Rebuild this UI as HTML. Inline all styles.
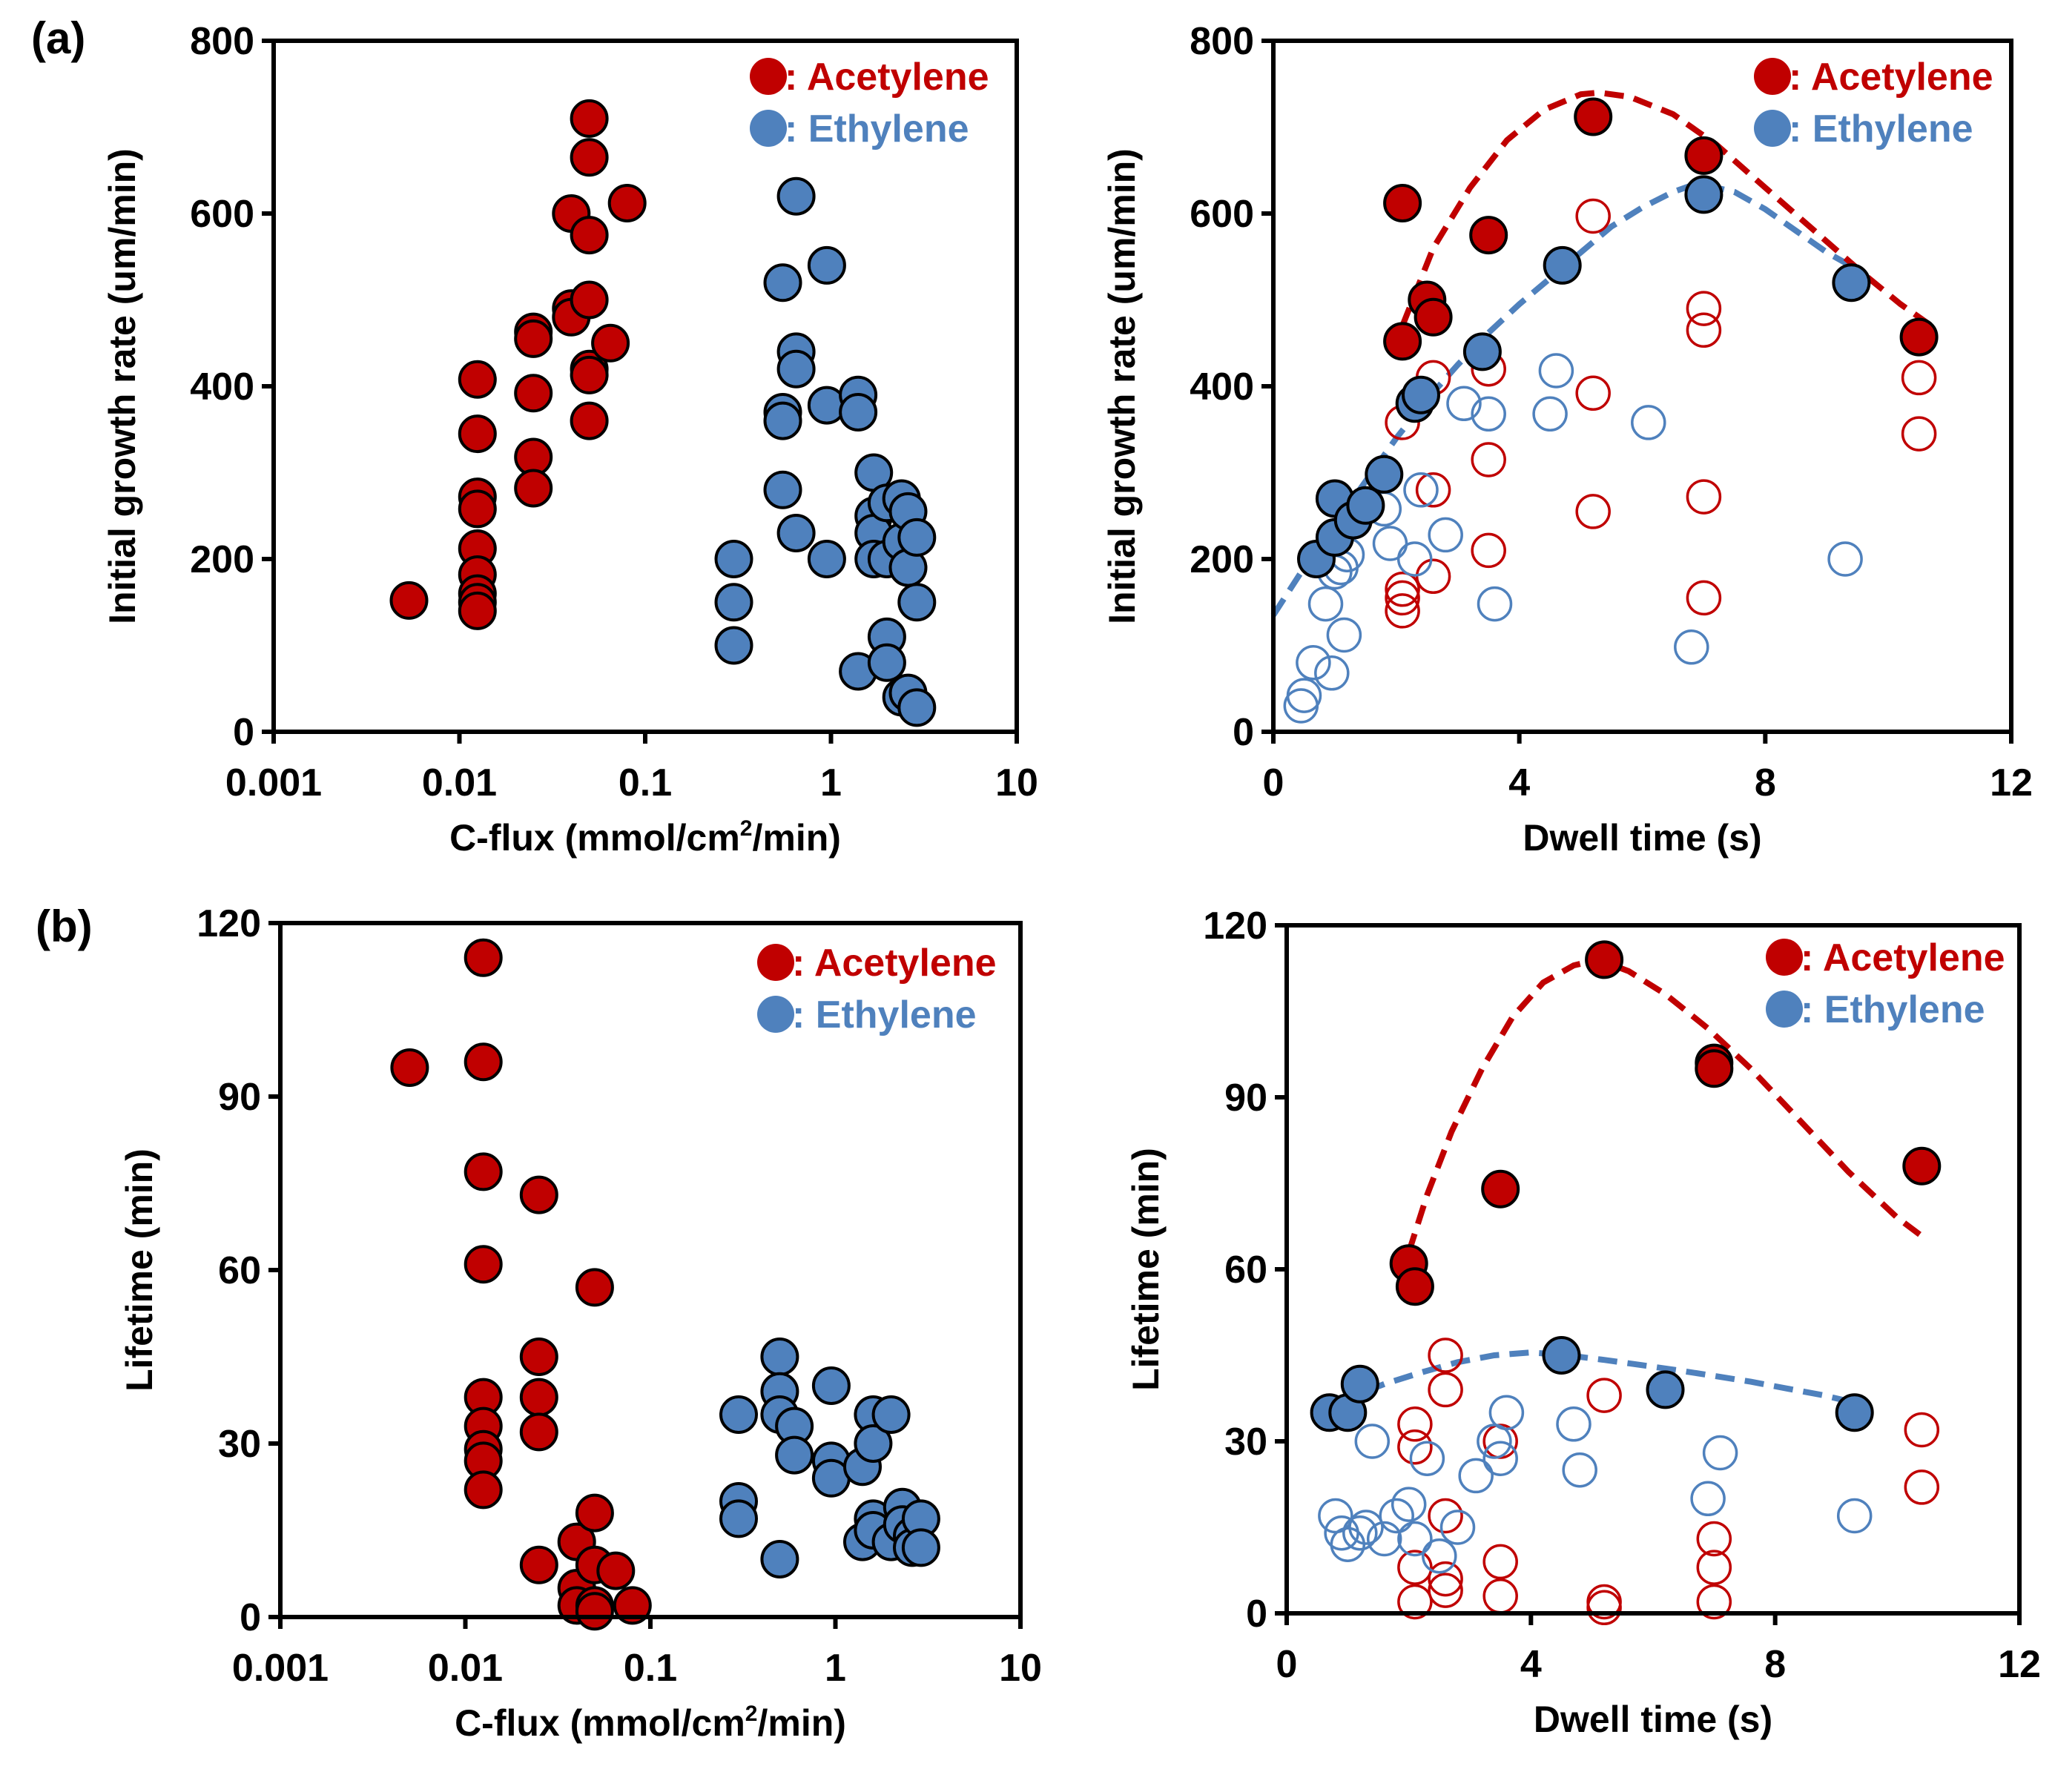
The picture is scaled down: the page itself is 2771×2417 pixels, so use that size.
<!DOCTYPE html>
<html><head><meta charset="utf-8"><style>
html,body{margin:0;padding:0;background:#fff;}
svg{display:block;font-family:"Liberation Sans",sans-serif;font-weight:bold;}
</style></head><body>
<svg id="fig" width="2771" height="2417" viewBox="0 0 2771 2417" xmlns="http://www.w3.org/2000/svg">
<text x="42" y="72" font-size="60">(a)</text>
<text x="48" y="1270" font-size="60">(b)</text>
</svg>
<script>
// ---- Panel a-left: growth rate vs C-flux ----
const aL_acX=[0.00535,0.0125,0.0125,0.0125,0.0125,0.0125,0.0125,0.0125,0.0125,0.0125,0.025,0.025,0.025,0.025,0.025,0.04,0.04,0.04,0.05,0.05,0.05,0.05,0.05,0.05,0.05,0.065,0.08];
const aL_acY=[152,408,345,272,258,212,182,160,150,140,463,455,392,318,282,600,490,480,710,665,575,500,420,413,360,450,612];
const aL_etX=[0.3,0.3,0.3,0.55,0.55,0.55,0.55,0.65,0.65,0.65,0.65,0.95,0.95,0.95,1.4,1.4,1.4,1.7,1.7,1.7,1.7,2.0,2.0,2.0,2.0,2.4,2.4,2.4,2.6,2.6,2.6,2.9,2.9,2.9];
const aL_etY=[200,150,100,520,370,360,280,620,440,420,230,540,378,200,390,370,70,300,250,230,200,265,110,80,200,270,220,40,255,190,45,225,150,28];
// ---- Panel a-right: growth rate vs dwell time ----
const aR_acFX=[2.1,2.1,2.5,2.6,3.5,5.2,7.0,10.5];
const aR_acFY=[612,452,500,480,575,712,667,457];
const aR_etFX=[0.7,1.0,1.0,1.3,1.5,1.8,2.3,2.4,3.4,4.7,7.0,9.4];
const aR_etFY=[200,270,225,245,262,298,380,390,440,540,622,520];
const aR_acOX=[5.2,2.6,3.5,2.1,3.5,2.6,5.2,5.2,3.5,2.6,2.1,2.1,2.1,7.0,7.0,7.0,7.0,10.5,10.5];
const aR_acOY=[597,410,420,358,315,280,392,255,210,180,165,155,140,490,465,272,155,410,345];
const aR_etOX=[4.6,3.1,3.5,4.5,6.1,2.4,2.8,1.8,1.9,2.3,1.2,1.1,1.0,0.85,1.15,0.65,0.95,0.5,0.45,3.6,6.8,9.3];
const aR_etOY=[418,380,368,368,358,280,228,258,218,200,205,190,185,148,112,80,68,42,30,148,98,200];
const aR_acFitX=[2.1,2.6,3.2,3.8,4.4,5.0,5.3,5.8,6.5,7.2,8.0,8.8,9.6,10.2,10.7];
const aR_acFitY=[470,560,630,685,720,738,740,735,715,680,630,580,530,495,470];
const aR_etFitX=[0,0.5,1.0,1.5,2.0,2.5,3.0,3.5,4.0,4.5,5.0,5.5,6.0,6.5,6.9,7.5,8.0,8.5,9.0,9.5];
const aR_etFitY=[135,190,240,290,340,385,425,462,495,525,555,585,607,625,635,625,605,580,555,535];
// ---- Panel b-left: lifetime vs C-flux ----
const bL_acX=[0.005,0.0125,0.0125,0.0125,0.0125,0.0125,0.0125,0.0125,0.0125,0.0125,0.025,0.025,0.025,0.025,0.025,0.04,0.04,0.04,0.05,0.05,0.05,0.05,0.05,0.065,0.08];
const bL_acY=[95,114,96,77,61,38,33,29,27,22,73,45,38,32,9,13,5,2,57,18,9,2,1,8,2];
const bL_etX=[0.3,0.3,0.3,0.5,0.5,0.5,0.5,0.6,0.6,0.95,0.95,0.95,1.4,1.4,1.6,1.6,1.6,1.6,2.0,2.0,2.3,2.3,2.6,2.6,2.9,2.9];
const bL_etY=[35,20,17,45,39,35,10,33,28,40,27,24,26,13,35,30,17,15,35,13,19,16,14,12,17,12];
// ---- Panel b-right: lifetime vs dwell time ----
const bR_acFX=[2.0,2.1,3.5,5.2,7.0,7.0,10.4];
const bR_acFY=[61,57,74,114,96,95,78];
const bR_etFX=[0.7,1.0,1.2,4.5,6.2,9.3];
const bR_etFY=[35,35,40,45,39,35];
const bR_acOX=[2.6,2.6,2.1,2.1,5.2,3.5,2.6,2.1,2.1,2.6,2.6,3.5,3.5,5.2,5.2,7.0,7.0,7.0,10.4,10.4];
const bR_acOY=[45,39,33,29,38,30,17,8,2,6,4,9,3,2,1,13,8,2,32,22];
const bR_etOX=[3.6,3.5,3.4,4.7,4.8,7.1,6.9,9.3,3.1,2.3,2.0,1.8,2.1,2.5,2.8,1.4,1.6,1.3,0.8,0.9,1.0,1.2];
const bR_etOY=[35,27,30,33,25,28,20,17,24,27,19,17,13,10,15,30,13,15,17,14,12,14];
const bR_acFitX=[2.0,2.3,2.7,3.2,3.7,4.2,4.7,5.1,5.6,6.2,6.9,7.6,8.4,9.2,10.0,10.5];
const bR_acFitY=[63,73,84,95,104,110,113,114,112,108,102,95,86,77,69,65];
const bR_etFitX=[0.4,1.0,1.6,2.2,2.8,3.4,4.0,4.6,5.2,5.8,6.4,7.0,7.6,8.2,8.8,9.2];
const bR_etFitY=[35,37.5,40,42,43.8,45,45.5,45,44.2,43.3,42.4,41.4,40.4,39.2,38,37];

const yTicksG=[0,200,400,600,800];
const yTicksL=[0,30,60,90,120];
const xTicksLog=[0.001,0.01,0.1,1,10];
const xTickLogLabels=["0.001","0.01","0.1","1","10"];
const xTicksLin=[0,4,8,12];

const RED="#c00000", BLUE="#4f81bd";
const NS="http://www.w3.org/2000/svg";
const svg=document.getElementById('fig');
function mk(tag,attrs,parent){const e=document.createElementNS(NS,tag);for(const k in attrs)e.setAttribute(k,attrs[k]);(parent||svg).appendChild(e);return e;}

function panel(cfg){
  const g=mk('g',{});
  
  
  const {x0,x1,y0,y1}=cfg;
  const sx=cfg.log?(v=>x0+(Math.log10(v)-Math.log10(cfg.xmin))/(Math.log10(cfg.xmax)-Math.log10(cfg.xmin))*(x1-x0)):(v=>x0+(v-cfg.xmin)/(cfg.xmax-cfg.xmin)*(x1-x0));
  const sy=v=>y1-(v-cfg.ymin)/(cfg.ymax-cfg.ymin)*(y1-y0);
  (cfg.fits||[]).forEach(f=>{
    let d='';f.x.forEach((v,i)=>{d+=(i?'L':'M')+sx(v).toFixed(1)+' '+sy(f.y[i]).toFixed(1);});
    const p=mk('path',{d:d,fill:'none',stroke:f.c,'stroke-width':8,'stroke-dasharray':'26 14'},g);
    
    
  });
  cfg.series.forEach(s=>{
    s.x.forEach((v,i)=>{
      const c=mk('circle',{cx:sx(v).toFixed(1),cy:sy(s.y[i]).toFixed(1),r:s.open?22:24,
        fill:s.open?'none':s.c,stroke:s.open?s.c:'#000','stroke-width':s.open?3.5:4},g);
      
      
    });
  });
  const r=mk('rect',{x:x0,y:y0,width:x1-x0,height:y1-y0,fill:'none',stroke:'#000','stroke-width':6},g);
  
  
  cfg.yt.forEach(v=>{
    mk('line',{x1:x0-16,x2:x0,y1:sy(v),y2:sy(v),stroke:'#000','stroke-width':6},g);
    const t=mk('text',{x:x0-26,y:sy(v)+18,'font-size':52,'text-anchor':'end'},g);
    t.textContent=v;
    
    
  });
  cfg.xt.forEach((v,i)=>{
    mk('line',{x1:sx(v),x2:sx(v),y1:y1,y2:y1+16,stroke:'#000','stroke-width':6},g);
    const t=mk('text',{x:sx(v),y:y1+86,'font-size':52,'text-anchor':'middle'},g);
    t.textContent=cfg.xl?cfg.xl[i]:v;
    
    
  });
  const xt=mk('text',{x:(x0+x1)/2,y:y1+160,'font-size':50,'text-anchor':'middle'},g);
  if(cfg.log){xt.innerHTML='C-flux (mmol/cm<tspan font-size="30" dy="-20">2</tspan><tspan dy="20">/min)</tspan>';}
  else xt.textContent='Dwell time (s)';
  
  
  const yx=x0-cfg.ytOff, yy=(y0+y1)/2;
  const yt=mk('text',{x:yx,y:yy,'font-size':50,'text-anchor':'middle',transform:`rotate(-90 ${yx} ${yy})`},g);
  yt.textContent=cfg.ytitle;
  
  
  [[RED,': Acetylene',0],[BLUE,': Ethylene',70]].forEach(L=>{
    const c=mk('circle',{cx:cfg.lx,cy:cfg.ly+L[2],r:25,fill:L[0]},g);
    
    
    const t=mk('text',{x:cfg.lx+22,y:cfg.ly+L[2]+18,'font-size':52,fill:L[0]},g);
    t.textContent=L[1];
    
    
  });
}

panel({name:'panel-a-left',x0:369,x1:1371,y0:55,y1:987,log:true,xmin:0.001,xmax:10,ymin:0,ymax:800,
  yt:yTicksG,xt:xTicksLog,xl:xTickLogLabels,ytitle:'Initial growth rate (um/min)',ytOff:187,lx:1036,ly:103,
  series:[{x:aL_acX,y:aL_acY,c:RED,name:'acetylene-point'},{x:aL_etX,y:aL_etY,c:BLUE,name:'ethylene-point'}]});
panel({name:'panel-a-right',x0:1717,x1:2712,y0:55,y1:987,log:false,xmin:0,xmax:12,ymin:0,ymax:800,
  yt:yTicksG,xt:xTicksLin,ytitle:'Initial growth rate (um/min)',ytOff:187,lx:2390,ly:103,
  fits:[{x:aR_etFitX,y:aR_etFitY,c:BLUE,name:'ethylene-fit'},{x:aR_acFitX,y:aR_acFitY,c:RED,name:'acetylene-fit'}],
  series:[{x:aR_acOX,y:aR_acOY,c:RED,open:true,name:'acetylene-open-point'},{x:aR_etOX,y:aR_etOY,c:BLUE,open:true,name:'ethylene-open-point'},
          {x:aR_acFX,y:aR_acFY,c:RED,name:'acetylene-point'},{x:aR_etFX,y:aR_etFY,c:BLUE,name:'ethylene-point'}]});
panel({name:'panel-b-left',x0:378,x1:1376,y0:1245,y1:2181,log:true,xmin:0.001,xmax:10,ymin:0,ymax:120,
  yt:yTicksL,xt:xTicksLog,xl:xTickLogLabels,ytitle:'Lifetime (min)',ytOff:173,lx:1046,ly:1298,
  series:[{x:bL_acX,y:bL_acY,c:RED,name:'acetylene-point'},{x:bL_etX,y:bL_etY,c:BLUE,name:'ethylene-point'}]});
panel({name:'panel-b-right',x0:1735,x1:2723,y0:1248,y1:2176,log:false,xmin:0,xmax:12,ymin:0,ymax:120,
  yt:yTicksL,xt:xTicksLin,ytitle:'Lifetime (min)',ytOff:173,lx:2406,ly:1291,
  fits:[{x:bR_etFitX,y:bR_etFitY,c:BLUE,name:'ethylene-fit'},{x:bR_acFitX,y:bR_acFitY,c:RED,name:'acetylene-fit'}],
  series:[{x:bR_acOX,y:bR_acOY,c:RED,open:true,name:'acetylene-open-point'},{x:bR_etOX,y:bR_etOY,c:BLUE,open:true,name:'ethylene-open-point'},
          {x:bR_acFX,y:bR_acFY,c:RED,name:'acetylene-point'},{x:bR_etFX,y:bR_etFY,c:BLUE,name:'ethylene-point'}]});
</script>
</body></html>
